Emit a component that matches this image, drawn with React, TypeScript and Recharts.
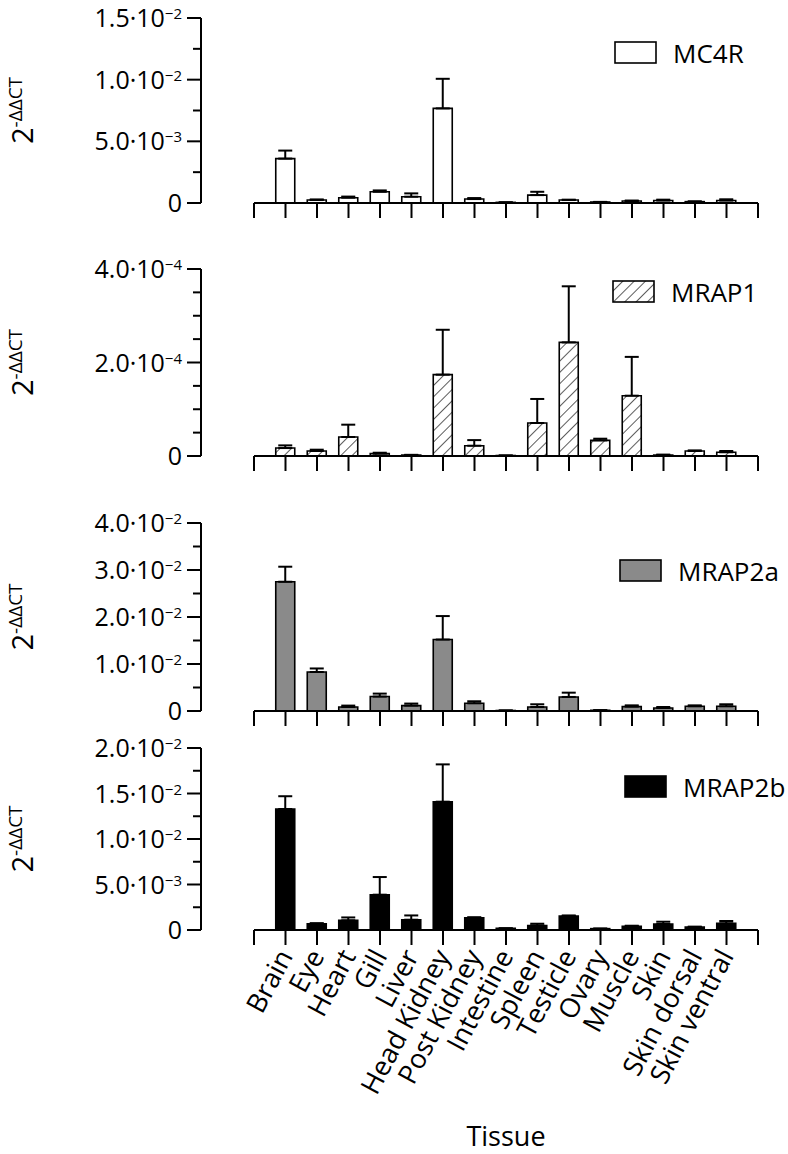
import React from 'react';
import { BarChart, Bar, XAxis, YAxis, ErrorBar, ReferenceLine, Legend } from 'recharts';

const tissues = ['Brain', 'Eye', 'Heart', 'Gill', 'Liver', 'Head Kidney', 'Post Kidney', 'Intestine', 'Spleen', 'Testicle', 'Ovary', 'Muscle', 'Skin', 'Skin dorsal', 'Skin ventral'];

const mc4rMean = [3.6e-3, 0.24e-3, 0.43e-3, 0.91e-3, 0.51e-3, 7.67e-3, 0.32e-3, 0.05e-3, 0.64e-3, 0.24e-3, 0.08e-3, 0.16e-3, 0.2e-3, 0.11e-3, 0.2e-3];
const mc4rErr = [0.65e-3, 0.05e-3, 0.09e-3, 0.11e-3, 0.27e-3, 2.4e-3, 0.08e-3, 0, 0.27e-3, 0.03e-3, 0.01e-3, 0.04e-3, 0.07e-3, 0.02e-3, 0.1e-3];

const mrap1Mean = [1.7e-5, 1.07e-5, 4.07e-5, 0.5e-5, 0.2e-5, 1.74e-4, 2.2e-5, 0.1e-5, 7.06e-5, 2.43e-4, 3.34e-5, 1.29e-4, 0.2e-5, 1.07e-5, 0.8e-5];
const mrap1Err = [0.57e-5, 0.28e-5, 2.63e-5, 0.2e-5, 0.05e-5, 0.96e-4, 1.2e-5, 0, 5.14e-5, 1.2e-4, 0.36e-5, 0.83e-4, 0.1e-5, 0.13e-5, 0.27e-5];

const mrap2aMean = [2.75e-2, 8.3e-3, 0.85e-3, 3.07e-3, 1.15e-3, 1.52e-2, 1.64e-3, 0.1e-3, 0.85e-3, 2.99e-3, 0.15e-3, 0.94e-3, 0.64e-3, 1.0e-3, 1.0e-3];
const mrap2aErr = [0.32e-2, 0.75e-3, 0.3e-3, 0.63e-3, 0.43e-3, 0.5e-2, 0.43e-3, 0, 0.58e-3, 0.91e-3, 0.02e-3, 0.26e-3, 0.21e-3, 0.2e-3, 0.43e-3];

const mrap2bMean = [1.33e-2, 0.69e-3, 1.06e-3, 3.88e-3, 1.13e-3, 1.41e-2, 1.35e-3, 0.18e-3, 0.5e-3, 1.54e-3, 0.15e-3, 0.4e-3, 0.66e-3, 0.33e-3, 0.73e-3];
const mrap2bErr = [0.14e-2, 0.06e-3, 0.32e-3, 1.94e-3, 0.47e-3, 0.41e-2, 0.05e-3, 0, 0.19e-3, 0.06e-3, 0, 0.07e-3, 0.25e-3, 0.04e-3, 0.26e-3];

const mc4rTicks = [0, 0.0025, 0.005, 0.0075, 0.01, 0.0125, 0.015];
const mc4rMajor = [0, 0.005, 0.01, 0.015];
const mrap1Ticks = [0, 5e-5, 1e-4, 1.5e-4, 2e-4, 2.5e-4, 3e-4, 3.5e-4, 4e-4];
const mrap1Major = [0, 2e-4, 4e-4];
const mrap2aTicks = [0, 0.005, 0.01, 0.015, 0.02, 0.025, 0.03, 0.035, 0.04];
const mrap2aMajor = [0, 0.01, 0.02, 0.03, 0.04];
const mrap2bTicks = [0, 0.0025, 0.005, 0.0075, 0.01, 0.0125, 0.015, 0.0175, 0.02];
const mrap2bMajor = [0, 0.005, 0.01, 0.015, 0.02];

const xTicks = Array.from({ length: tissues.length + 2 }, (_, i) => i);

const FONT = "'Open Sans', 'Noto Sans', sans-serif";
const CHART_W = 788;
const Y_AXIS_W = 201;
const PLOT_RIGHT = 758;
const SLOT = 31.5;
const X_MIN = -(254 - Y_AXIS_W) / SLOT;

function fmt(v: number): [string, string] {
  if (v === 0) return ['0', ''];
  const exp = Math.floor(Math.log10(v) + 1e-9);
  const mant = v / Math.pow(10, exp);
  return [mant.toFixed(1) + '·10', '−' + String(-exp)];
}

type PanelProps = {
  top: number;
  height: number;
  plotTop: number;
  plotBottom: number;
  mean: number[];
  err: number[];
  yMax: number;
  ticks: number[];
  majors: number[];
  fill: string;
  name: string;
  legendLeft: number;
  legendTop: number;
  bottom: boolean;
  defs?: boolean;
};

function Panel(p: PanelProps) {
  const data = tissues.map((t, i) => ({ pos: i + 1, name: t, value: p.mean[i], err: [0, p.err[i]] }));
  const xAxisH = p.bottom ? 180 : 20;
  const mTop = p.plotTop - p.top;
  const mBottom = p.height - (p.plotBottom - p.top) - xAxisH;
  const midY = (p.plotTop + p.plotBottom) / 2 - p.top;

  const renderYTick = (props: any) => {
    const v = props.payload.value;
    const y = props.y;
    const major = p.majors.some((m) => Math.abs(m - v) < 1e-12);
    const len = major ? 14 : 8;
    const [a, b] = fmt(v);
    return (
      <g>
        <line x1={Y_AXIS_W - len} x2={Y_AXIS_W} y1={y} y2={y} stroke="#000" strokeWidth={2} />
        {major && (
          <text x={Y_AXIS_W - 19} y={y + 9} textAnchor="end" fontFamily={FONT} fontSize={25} fill="#000">
            <tspan>{a}</tspan>
            {b && (
              <tspan dy={-8} fontSize={15}>
                {b}
              </tspan>
            )}
          </text>
        )}
      </g>
    );
  };

  const renderXTick = (props: any) => {
    const i = props.payload.value;
    const label = p.bottom && i >= 1 && i <= tissues.length ? tissues[i - 1] : '';
    const ax = props.x + 8;
    const ay = props.y + 9;
    return (
      <text x={ax} y={ay} transform={`rotate(-62, ${ax}, ${ay})`} textAnchor="end" fontFamily={FONT} fontSize={27} fill="#000">
        {label}
      </text>
    );
  };

  const yLabel = () => {
    const bx = 33;
    return (
      <text x={bx} y={midY} transform={`rotate(-90, ${bx}, ${midY})`} textAnchor="middle" fontFamily={FONT} fill="#000">
        <tspan fontSize={29}>2</tspan>
        <tspan fontSize={19} dy={-11}>-ΔΔCT</tspan>
      </text>
    );
  };

  const xLabel = () =>
    p.bottom ? (
      <text x={(254 + PLOT_RIGHT) / 2} y={1146 - p.top} textAnchor="middle" fontFamily={FONT} fontSize={27} fill="#000">
        Tissue
      </text>
    ) : null;

  const legendContent = () => (
    <svg width={175} height={34} style={{ display: 'block', overflow: 'visible' }}>
      <rect x={1} y={1} width={41} height={21} fill={p.fill} stroke="#000" strokeWidth={1.6} />
      <text x={59} y={22} fontFamily={FONT} fontSize={26} fill="#000">
        {p.name}
      </text>
    </svg>
  );

  return (
    <div style={{ position: 'absolute', left: 0, top: p.top, width: CHART_W, height: p.height }}>
      <BarChart
        width={CHART_W}
        height={p.height}
        data={data}
        margin={{ top: mTop, right: CHART_W - PLOT_RIGHT, bottom: mBottom, left: 0 }}
      >
        {p.defs && (
          <defs>
            <pattern id="hatch" patternUnits="userSpaceOnUse" width={8} height={8} patternTransform="rotate(45)">
              <rect width={8} height={8} fill="#fff" />
              <line x1={0} y1={0} x2={0} y2={8} stroke="#333" strokeWidth={1.6} />
            </pattern>
          </defs>
        )}
        <XAxis
          dataKey="pos"
          type="number"
          domain={[X_MIN, tissues.length + 1]}
          ticks={xTicks}
          interval={0}
          allowDataOverflow
          axisLine={false}
          tickLine={{ stroke: '#000', strokeWidth: 2 }}
          tickSize={15}
          tickMargin={2}
          height={xAxisH}
          tick={renderXTick}
          label={{ content: xLabel }}
        />
        <YAxis
          type="number"
          domain={[0, p.yMax]}
          ticks={p.ticks}
          interval={0}
          allowDataOverflow
          width={Y_AXIS_W}
          axisLine={{ stroke: '#000', strokeWidth: 2 }}
          tickLine={false}
          tick={renderYTick}
          label={{ content: yLabel }}
        />
        <Bar dataKey="value" name={p.name} fill={p.fill} stroke="#000" strokeWidth={1.6} barSize={19} isAnimationActive={false}>
          <ErrorBar dataKey="err" width={7} stroke="#000" strokeWidth={2} direction="y" />
        </Bar>
        <ReferenceLine
          segment={[
            { x: 0, y: 0 },
            { x: tissues.length + 1, y: 0 },
          ]}
          stroke="#000"
          strokeWidth={2}
          ifOverflow="visible"
        />
        <Legend
          layout="horizontal"
          verticalAlign="middle"
          align="center"
          content={legendContent}
          wrapperStyle={{ position: 'absolute', left: p.legendLeft, top: p.legendTop - p.top, width: 175, height: 34 }}
        />
      </BarChart>
    </div>
  );
}

export default function App() {
  return (
    <div style={{ position: 'absolute', left: 0, top: 0, width: 788, height: 1154, background: '#fff', fontFamily: FONT }}>
      <Panel top={0} height={230} plotTop={18} plotBottom={203} mean={mc4rMean} err={mc4rErr} yMax={0.015} ticks={mc4rTicks} majors={mc4rMajor} fill="#fff" name="MC4R" legendLeft={614} legendTop={41} bottom={false} />
      <Panel top={230} height={250} plotTop={269} plotBottom={456} mean={mrap1Mean} err={mrap1Err} yMax={4e-4} ticks={mrap1Ticks} majors={mrap1Major} fill="url(#hatch)" name="MRAP1" legendLeft={612} legendTop={280} bottom={false} defs />
      <Panel top={480} height={260} plotTop={523} plotBottom={711} mean={mrap2aMean} err={mrap2aErr} yMax={0.04} ticks={mrap2aTicks} majors={mrap2aMajor} fill="#8a8a8a" name="MRAP2a" legendLeft={619} legendTop={559} bottom={false} />
      <Panel top={720} height={434} plotTop={748} plotBottom={930} mean={mrap2bMean} err={mrap2bErr} yMax={0.02} ticks={mrap2bTicks} majors={mrap2bMajor} fill="#000" name="MRAP2b" legendLeft={624} legendTop={775} bottom />
    </div>
  );
}
